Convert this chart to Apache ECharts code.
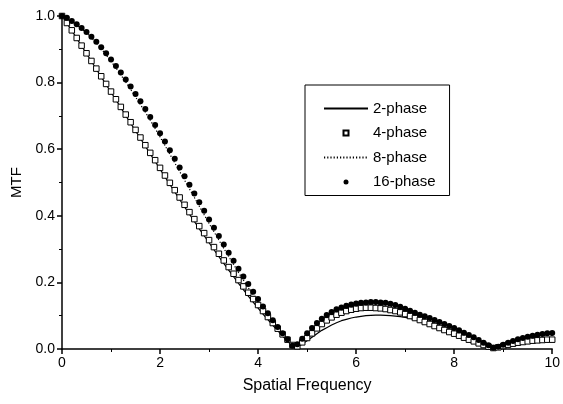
<!DOCTYPE html>
<html>
<head>
<meta charset="utf-8">
<script src="https://cdn.jsdelivr.net/npm/echarts@6/dist/echarts.min.js"></script>
<style>
    html, body { margin: 0; padding: 0; background: #fff; }
    #chart { width: 563px; height: 404px; }
</style>
</head>
<body>
<div id="chart"></div>
<script>
// spatial frequency samples (step 0.1)
let freqs = [
    0.0, 0.1, 0.2, 0.3, 0.4, 0.5, 0.6, 0.7, 0.8, 0.9,
    1.0, 1.1, 1.2, 1.3, 1.4, 1.5, 1.6, 1.7, 1.8, 1.9,
    2.0, 2.1, 2.2, 2.3, 2.4, 2.5, 2.6, 2.7, 2.8, 2.9,
    3.0, 3.1, 3.2, 3.3, 3.4, 3.5, 3.6, 3.7, 3.8, 3.9,
    4.0, 4.1, 4.2, 4.3, 4.4, 4.5, 4.6, 4.7, 4.8, 4.9,
    5.0, 5.1, 5.2, 5.3, 5.4, 5.5, 5.6, 5.7, 5.8, 5.9,
    6.0, 6.1, 6.2, 6.3, 6.4, 6.5, 6.6, 6.7, 6.8, 6.9,
    7.0, 7.1, 7.2, 7.3, 7.4, 7.5, 7.6, 7.7, 7.8, 7.9,
    8.0, 8.1, 8.2, 8.3, 8.4, 8.5, 8.6, 8.7, 8.8, 8.9,
    9.0, 9.1, 9.2, 9.3, 9.4, 9.5, 9.6, 9.7, 9.8, 9.9,
    10.0
];

let phase2 = [
    1.000, 0.978, 0.956, 0.933, 0.910, 0.887, 0.864, 0.840, 0.817, 0.794,
    0.771, 0.748, 0.725, 0.701, 0.678, 0.655, 0.632, 0.609, 0.586, 0.563,
    0.540, 0.517, 0.494, 0.472, 0.449, 0.427, 0.405, 0.383, 0.361, 0.340,
    0.319, 0.298, 0.277, 0.257, 0.237, 0.217, 0.197, 0.178, 0.159, 0.141,
    0.123, 0.105, 0.088, 0.071, 0.055, 0.039, 0.024, 0.010, 0.005, 0.015,
    0.025, 0.035, 0.046, 0.056, 0.064, 0.072, 0.079, 0.085, 0.089, 0.093,
    0.096, 0.098, 0.100, 0.101, 0.102, 0.102, 0.101, 0.100, 0.099, 0.097,
    0.095, 0.092, 0.089, 0.085, 0.081, 0.077, 0.072, 0.067, 0.061, 0.055,
    0.049, 0.043, 0.036, 0.030, 0.024, 0.017, 0.011, 0.006, 0.002, 0.004,
    0.008, 0.011, 0.014, 0.017, 0.019, 0.021, 0.023, 0.024, 0.025, 0.026,
    0.026
];

let phase4 = [
    1.000, 0.979, 0.957, 0.934, 0.911, 0.888, 0.865, 0.842, 0.819, 0.796,
    0.773, 0.750, 0.727, 0.704, 0.681, 0.658, 0.635, 0.612, 0.589, 0.567,
    0.544, 0.521, 0.499, 0.477, 0.455, 0.433, 0.411, 0.390, 0.369, 0.348,
    0.327, 0.306, 0.286, 0.266, 0.246, 0.226, 0.207, 0.188, 0.169, 0.150,
    0.132, 0.114, 0.096, 0.078, 0.061, 0.044, 0.028, 0.012, 0.008, 0.020,
    0.033, 0.047, 0.062, 0.075, 0.086, 0.095, 0.103, 0.109, 0.114, 0.118,
    0.121, 0.123, 0.124, 0.124, 0.123, 0.122, 0.120, 0.117, 0.114, 0.110,
    0.105, 0.099, 0.093, 0.087, 0.081, 0.075, 0.069, 0.063, 0.057, 0.051,
    0.046, 0.040, 0.034, 0.028, 0.023, 0.017, 0.012, 0.007, 0.003, 0.005,
    0.009, 0.013, 0.016, 0.019, 0.021, 0.023, 0.025, 0.026, 0.027, 0.028,
    0.028
];

let phase8 = [
    1.000, 0.994, 0.984, 0.973, 0.962, 0.949, 0.935, 0.919, 0.902, 0.883,
    0.864, 0.844, 0.823, 0.802, 0.780, 0.757, 0.734, 0.711, 0.687, 0.662,
    0.637, 0.611, 0.585, 0.559, 0.533, 0.507, 0.481, 0.455, 0.429, 0.403,
    0.377, 0.352, 0.327, 0.302, 0.278, 0.254, 0.230, 0.207, 0.184, 0.162,
    0.140, 0.119, 0.098, 0.078, 0.059, 0.041, 0.024, 0.009, 0.011, 0.027,
    0.043, 0.058, 0.072, 0.085, 0.096, 0.105, 0.113, 0.119, 0.124, 0.128,
    0.131, 0.133, 0.134, 0.135, 0.135, 0.134, 0.132, 0.129, 0.125, 0.120,
    0.115, 0.109, 0.103, 0.097, 0.092, 0.086, 0.080, 0.074, 0.068, 0.062,
    0.056, 0.050, 0.043, 0.037, 0.030, 0.023, 0.016, 0.009, 0.004, 0.007,
    0.012, 0.017, 0.022, 0.026, 0.030, 0.033, 0.036, 0.038, 0.040, 0.041,
    0.042
];

let phase16 = [
    1.000, 0.995, 0.985, 0.975, 0.964, 0.952, 0.938, 0.923, 0.906, 0.888,
    0.869, 0.850, 0.830, 0.809, 0.788, 0.766, 0.744, 0.721, 0.697, 0.673,
    0.648, 0.623, 0.597, 0.571, 0.545, 0.519, 0.493, 0.467, 0.441, 0.415,
    0.389, 0.364, 0.339, 0.314, 0.289, 0.265, 0.241, 0.218, 0.195, 0.172,
    0.150, 0.128, 0.107, 0.086, 0.066, 0.047, 0.029, 0.010, 0.014, 0.031,
    0.047, 0.063, 0.078, 0.091, 0.102, 0.111, 0.119, 0.125, 0.130, 0.134,
    0.137, 0.139, 0.140, 0.141, 0.141, 0.140, 0.139, 0.136, 0.132, 0.127,
    0.121, 0.115, 0.109, 0.103, 0.098, 0.093, 0.087, 0.081, 0.075, 0.069,
    0.063, 0.056, 0.049, 0.042, 0.035, 0.027, 0.019, 0.011, 0.004, 0.007,
    0.013, 0.019, 0.024, 0.029, 0.033, 0.037, 0.040, 0.043, 0.045, 0.047,
    0.048
];

function pairs(values) {
    return freqs.map(function (f, i) { return [f, values[i]]; });
}

let chart = echarts.init(document.getElementById('chart'), null, { renderer: 'canvas' });

let axisFont = { color: '#000', fontFamily: 'Liberation Sans', fontSize: 14 };

chart.setOption({
    animation: false,
    backgroundColor: '#fff',
    textStyle: { fontFamily: 'Liberation Sans', color: '#000' },
    grid: { left: 62, right: 8, top: 16, bottom: 55 },
    legend: {
        orient: 'vertical',
        left: 305,
        top: 85,
        padding: [16, 14, 6, 18],
        borderColor: '#000',
        borderWidth: 1,
        itemWidth: 44,
        itemHeight: 5,
        itemGap: 9.5,
        textStyle: { color: '#000', fontFamily: 'Liberation Sans', fontSize: 15 },
        data: [
            // hide the circle ECharts puts on line legend icons
            { name: '2-phase', itemStyle: { color: 'rgba(0,0,0,0)', borderWidth: 0 } },
            { name: '4-phase', icon: 'path://M0,0L5,0L5,5L0,5Z' },
            { name: '8-phase', itemStyle: { color: 'rgba(0,0,0,0)', borderWidth: 0 } },
            { name: '16-phase' }
        ]
    },
    xAxis: {
        type: 'value',
        min: 0,
        max: 10,
        interval: 2,
        name: 'Spatial Frequency',
        nameLocation: 'middle',
        nameGap: 29,
        nameTextStyle: { color: '#000', fontFamily: 'Liberation Sans', fontSize: 16 },
        axisLine: { lineStyle: { color: '#000', width: 1.5 } },
        axisTick: { length: 5, lineStyle: { color: '#000', width: 1.5 } },
        minorTick: { show: true, splitNumber: 2, length: 3, lineStyle: { color: '#000', width: 1 } },
        axisLabel: Object.assign({ margin: 7 }, axisFont),
        splitLine: { show: false }
    },
    yAxis: {
        type: 'value',
        min: 0,
        max: 1,
        interval: 0.2,
        name: 'MTF',
        nameLocation: 'middle',
        nameGap: 38,
        nameTextStyle: { color: '#000', fontFamily: 'Liberation Sans', fontSize: 15 },
        axisLine: { show: true, lineStyle: { color: '#000', width: 1.5 } },
        axisTick: { show: true, length: 5, lineStyle: { color: '#000', width: 1.5 } },
        minorTick: { show: true, splitNumber: 2, length: 3, lineStyle: { color: '#000', width: 1 } },
        axisLabel: Object.assign({
            margin: 7,
            formatter: function (v) { return v.toFixed(1); }
        }, axisFont),
        splitLine: { show: false }
    },
    series: [{
        name: '2-phase',
        type: 'line',
        data: pairs(phase2),
        symbol: 'none',
        lineStyle: { color: '#000', width: 1.2 },
        itemStyle: { color: '#000' },
        z: 2
    }, {
        name: '8-phase',
        type: 'line',
        data: pairs(phase8),
        symbol: 'none',
        lineStyle: { color: '#000', width: 1.2, type: [1.2, 2] },
        itemStyle: { color: '#000' },
        z: 2
    }, {
        name: '4-phase',
        type: 'scatter',
        data: pairs(phase4),
        symbol: 'rect',
        symbolSize: 5.5,
        itemStyle: { color: '#fff', borderColor: '#000', borderWidth: 1, opacity: 1 },
        z: 3
    }, {
        name: '16-phase',
        type: 'scatter',
        data: pairs(phase16),
        symbol: 'circle',
        symbolSize: 6,
        itemStyle: { color: '#000', opacity: 1 },
        z: 4
    }]
});
</script>
</body>
</html>
